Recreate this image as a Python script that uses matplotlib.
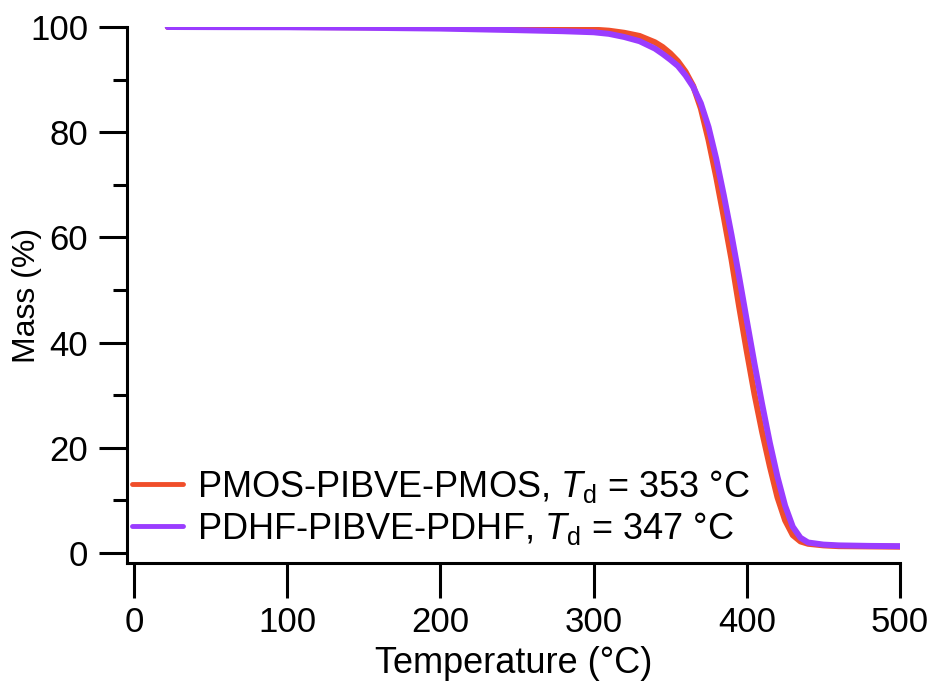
import matplotlib
matplotlib.use("Agg")
import matplotlib.pyplot as plt
from matplotlib.ticker import MultipleLocator

plt.rcParams['font.family'] = ['Liberation Sans', 'DejaVu Sans']
plt.rcParams['mathtext.fontset'] = 'custom'
plt.rcParams['mathtext.rm'] = 'Liberation Sans'
plt.rcParams['mathtext.it'] = 'Liberation Sans:italic'

# PMOS-PIBVE-PMOS
temp_pmos = [22, 60, 100, 150, 200, 250, 280, 300, 310, 320, 330, 340, 345, 350, 355,
             360, 365, 370, 375, 380, 385, 390, 395, 400, 405, 410, 415, 420,
             425, 430, 435, 440, 450, 460, 480, 500]
mass_pmos = [100.0, 100.0, 100.0, 99.95, 99.9, 99.75, 99.6, 99.5, 99.3, 98.9, 98.3, 97.1, 96.2, 95.0, 93.5,
             91.5, 88.8, 84.5, 78.5, 71.5, 63.8, 55.8, 46.8, 38.3, 30.2, 23.0, 16.5, 10.6,
             6.2, 3.4, 2.2, 1.75, 1.45, 1.3, 1.25, 1.2]

# PDHF-PIBVE-PDHF
temp_pdhf = [22, 60, 100, 150, 200, 250, 280, 300, 310, 320, 330, 340, 345, 350, 355,
             360, 365, 370, 375, 380, 385, 390, 395, 400, 405, 410, 415, 420,
             425, 430, 435, 440, 450, 460, 480, 500]
mass_pdhf = [100.0, 99.97, 99.95, 99.85, 99.7, 99.4, 99.2, 99.0, 98.7, 98.1, 97.3, 95.9, 94.9, 93.8, 92.6,
             90.8, 88.6, 85.5, 81.0, 75.0, 68.0, 60.5, 52.5, 44.2, 36.0, 28.3, 21.0, 14.5,
             9.0, 5.0, 2.9, 2.0, 1.6, 1.45, 1.35, 1.3]

labels = [r'PMOS-PIBVE-PMOS, $\mathit{T}_{\mathrm{d}}$ = 353 °C',
          r'PDHF-PIBVE-PDHF, $\mathit{T}_{\mathrm{d}}$ = 347 °C']
colors = ['#F04E2A', '#9A3CFF']

x_ticks = [0, 100, 200, 300, 400, 500]
y_ticks = [0, 20, 40, 60, 80, 100]

fig = plt.figure(figsize=(9.36, 6.86), dpi=100)
ax = fig.add_axes([127/936, 1 - 563/686, (900-127)/936, (563-27)/686])

ax.plot(temp_pmos, mass_pmos, color=colors[0], lw=4.3, label=labels[0],
        solid_joinstyle='round', solid_capstyle='round')
ax.plot(temp_pdhf, mass_pdhf, color=colors[1], lw=4.3, label=labels[1],
        solid_joinstyle='round', solid_capstyle='round')

ax.set_xlim(-4.6, 500)
ax.set_ylim(-1.9, 100)
ax.set_xticks(x_ticks)
ax.set_yticks(y_ticks)
ax.yaxis.set_minor_locator(MultipleLocator(10))

for s in ['top', 'right']:
    ax.spines[s].set_visible(False)
for s in ['left', 'bottom']:
    ax.spines[s].set_linewidth(2.2)
    ax.spines[s].set_capstyle('projecting')

ax.tick_params(axis='y', which='major', direction='out', length=20, width=2.2,
               labelsize=25, pad=8)
ax.tick_params(axis='y', which='minor', direction='out', length=10, width=2.2)
ax.tick_params(axis='x', which='major', direction='out', length=25, width=2.2,
               labelsize=25, pad=6)

ax.set_xlabel('Temperature (°C)', fontsize=26, labelpad=5)
ax.set_ylabel('Mass (%)', fontsize=23, labelpad=-9)

leg = ax.legend(loc='lower left', bbox_to_anchor=(0.007, 0.03), frameon=False,
                fontsize=26, handlelength=1.4, handletextpad=0.4,
                borderaxespad=0, labelspacing=0.15, borderpad=0)
for line in leg.get_lines():
    line.set_linewidth(3.5)

fig.savefig('out.png', dpi=100)
